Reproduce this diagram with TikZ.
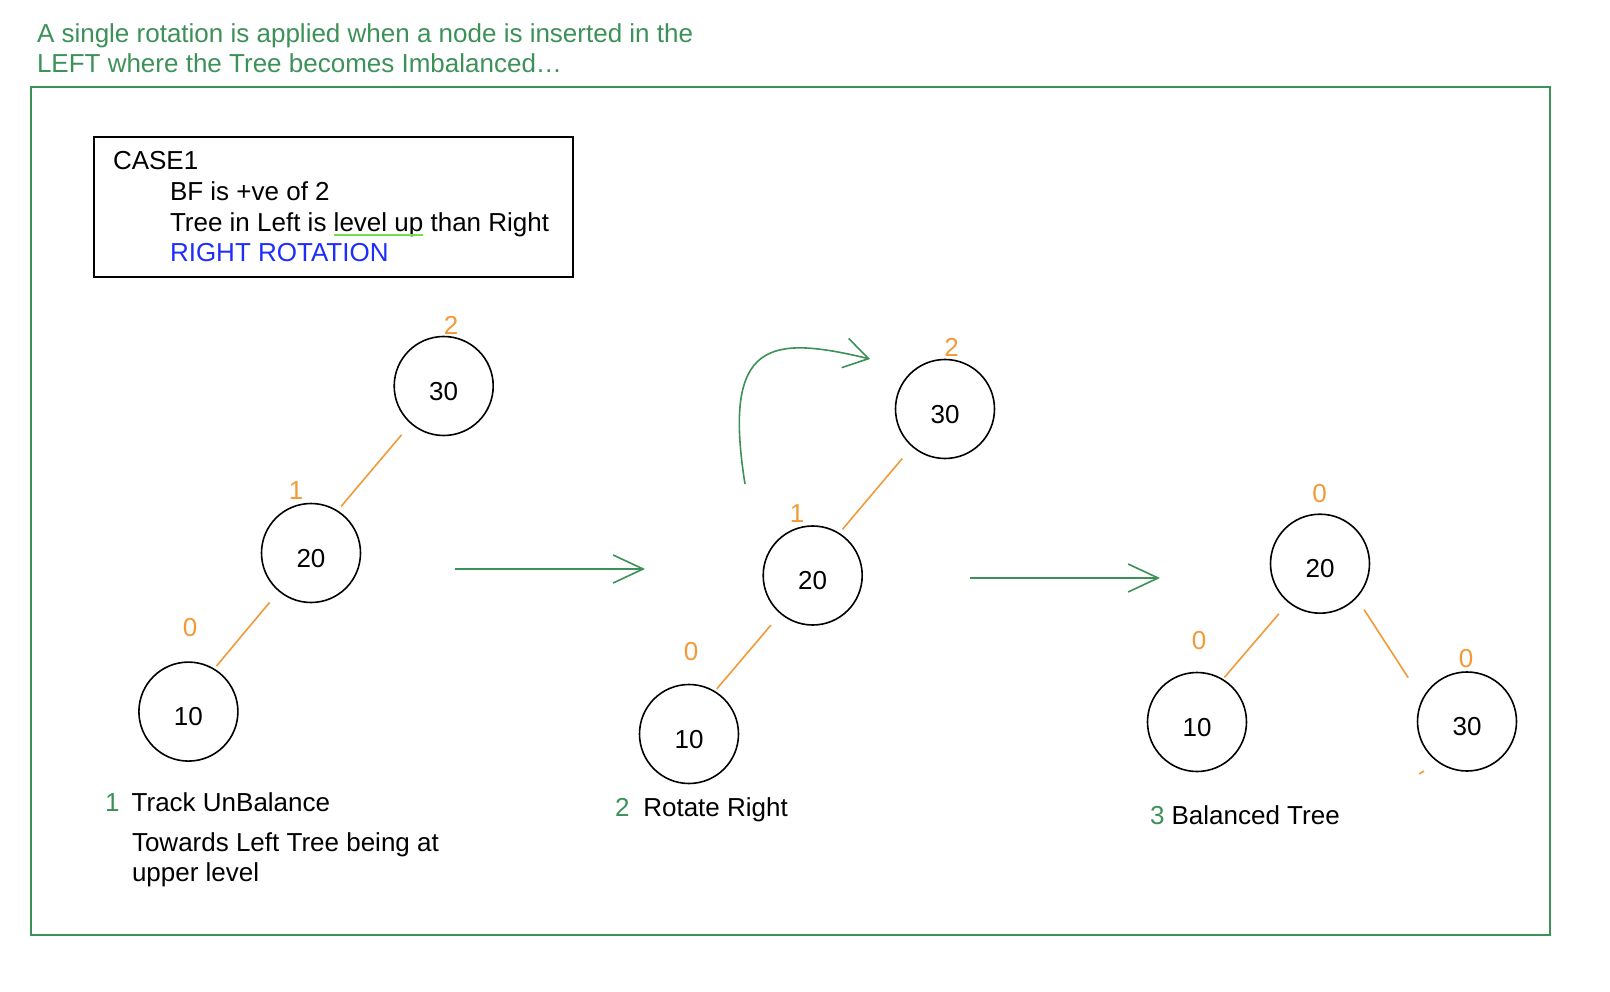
\documentclass[tikz,border=0pt]{standalone}
\usepackage{fontspec}
\setmainfont{Liberation Sans}
\usepackage{xcolor}
\usetikzlibrary{arrows.meta,positioning}

\definecolor{notegreen}{RGB}{60,145,88}
\definecolor{bforange}{RGB}{242,153,56}
\definecolor{rotblue}{RGB}{30,45,250}
\definecolor{ulgreen}{RGB}{110,225,70}

\begin{document}
\begin{tikzpicture}[
  x=1pt, y=-1pt,
  every node/.style={font=\fontsize{26}{31}\selectfont, inner sep=0pt, outer sep=0pt},
  txt/.style={anchor=base west},
  note/.style={txt, text=notegreen},
  bf/.style={text=bforange},
  avl/.style={draw, circle, line width=1.6pt, minimum size=99pt, text height=28.6pt},
  link/.style={draw=bforange, line width=1.6pt},
  frame/.style={draw=notegreen, line width=1.6pt},
  casebox/.style={draw, line width=1.6pt, minimum width=479pt, minimum height=140pt},
  mv/.style={draw=notegreen, line width=1.6pt, -{Straight Barb[length=30pt,width=28pt]}},
]
  \useasboundingbox (0,0) rectangle (1610,992);

  % heading and outer board
  \node[note] (head1) at (37,43) {A single rotation is applied when a node is inserted in the};
  \node[note] (head2) at (37,73) {LEFT where the Tree becomes Imbalanced\dots};
  \node[frame, minimum width=1519pt, minimum height=848pt] (board) at (790.5,511) {};

  % case description
  \node[casebox] (case) at (333.5,207) {};
  \node[txt] (casettl) at (113,170) {CASE1};
  \node[txt] (caseb) at (170,201) {BF is +ve of 2};
  \node[txt] (casel) at (170,232) {Tree in Left is};
  \node[txt] (caselu) at ([xshift=7.2pt]casel.base east) {level up};
  \node[txt] (caser) at ([xshift=7.2pt]caselu.base east) {than Right};
  \node[txt, text=rotblue] (caserot) at (170,262) {RIGHT ROTATION};
  \draw[ulgreen, line width=1.2pt] ([yshift=-3pt]caselu.base west) -- ([yshift=-3pt]caselu.base east);

  % tree 1: unbalanced
  \node[avl] (a30) at (443.7,386) {30};
  \node[avl] (a20) at (311,553) {20};
  \node[avl] (a10) at (188.4,711.6) {10};
  \node[bf] (bfa30) at (451,325) {2};
  \node[bf] (bfa20) at (296,491) {1};
  \node[bf] (bfa10) at (190,628) {0};
  \draw[link, shorten <=15pt, shorten >=6pt] (a30.229) -- (a20.58);
  \draw[link, shorten <=15pt, shorten >=4pt] (a20.230) -- (a10.59);

  % tree 2: rotate
  \node[avl] (b30) at (945,409) {30};
  \node[avl] (b20) at (812.7,575.5) {20};
  \node[avl] (b10) at (689,734) {10};
  \node[bf] (bfb30) at (951.7,347) {2};
  \node[bf] (bfb20) at (797,513.5) {1};
  \node[bf] (bfb10) at (691,652) {0};
  \draw[link, shorten <=16pt, shorten >=5.5pt] (b30.229) -- (b20.58);
  \draw[link, shorten <=15.4pt, shorten >=3.6pt] (b20.230) -- (b10.59);
  \coordinate (swingfrom) at (745,484);
  \coordinate (swingto) at (870,359);
  \draw[notegreen, line width=1.6pt, -{Straight Barb[length=24pt,width=30pt]}]
    (swingfrom) .. controls (722,340) and (770,335) .. (swingto);

  % tree 3: balanced
  \node[avl] (c20) at (1320,563.7) {20};
  \node[avl] (c10) at (1197,722) {10};
  \node[avl] (c30) at (1467,721.5) {30};
  \node[bf] (bfc20) at (1319.7,494) {0};
  \node[bf] (bfc10) at (1199,641) {0};
  \node[bf] (bfc30) at (1466,659) {0};
  \draw[link, shorten <=15.3pt, shorten >=2.8pt] (c20.231) -- (c10.59);
  \draw[link, shorten <=14.4pt, shorten >=26.4pt] (c20.-43) -- (c30.154);
  \coordinate (tick) at (1419.3,774);
  \draw[link] (tick) -- ++(4.7,-3);

  % step arrows
  \coordinate (go1) at (455,569);
  \coordinate (go1end) at (645,569);
  \coordinate (go2) at (970,578);
  \coordinate (go2end) at (1160,578);
  \draw[mv] (go1) -- (go1end);
  \draw[mv] (go2) -- (go2end);

  % step captions
  \node[note] (st1) at (105,811.7) {1};
  \node[txt] (st1t) at (131.7,811.7) {Track UnBalance};
  \node[txt] (st1d) at (132,851.7) {Towards Left Tree being at};
  \node[txt, below=30pt of st1d.base west, anchor=base west] (st1e) {upper level};
  \node[note] (st2) at (615,816.7) {2};
  \node[txt] (st2t) at (643.3,816.7) {Rotate Right};
  \node[note] (st3) at (1150,824.5) {3};
  \node[txt] (st3t) at (1171.6,824.5) {Balanced Tree};
\end{tikzpicture}
\end{document}
